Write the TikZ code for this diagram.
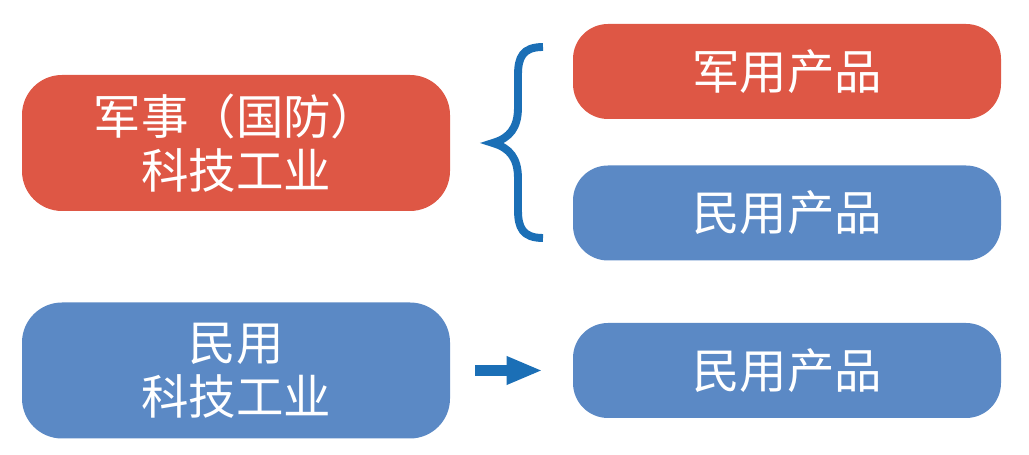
\documentclass[tikz,border=0pt]{standalone}
\usepackage{fontspec}
\setmainfont{Noto Sans CJK SC}
\usepackage{xcolor}
\usepackage{tikz}
\usetikzlibrary{arrows.meta,calc,positioning}
\definecolor{milred}{HTML}{DE5745}
\definecolor{civblue}{HTML}{5B89C5}
\definecolor{linkblue}{HTML}{1B6FB6}
\tikzset{
  sector/.style={rounded corners=0.8cm,minimum width=8.56cm,minimum height=2.72cm,
    align=center,text=white,font=\fontsize{27}{31}\selectfont},
  product/.style={rounded corners=0.7cm,minimum width=8.56cm,minimum height=1.9cm,
    align=center,text=white,font=\fontsize{27}{31}\selectfont}
}

\begin{document}
\begin{tikzpicture}[>=Latex]
    \useasboundingbox (0,0) rectangle (20.58,9.1);
    \node[sector,fill=milred] (mil) at (4.72,6.24) {军事（国防）\\科技工业};
    \node[sector,fill=civblue] (civ) at (4.72,1.69) {民用\\科技工业};
    \node[product,fill=milred] (milprod) at (15.74,7.67) {军用产品};
    \node[product,fill=civblue] (dualprod) at (15.74,4.84) {民用产品};
    \node[product,fill=civblue] (civprod) at (15.74,1.69) {民用产品};
    % brace from the military sector to its two products
    \coordinate (tip) at ($(mil.east)+(0.85,0)$);
    \draw[linkblue,line width=4.5pt,line join=miter,miter limit=8]
      (10.86,8.16) .. controls (10.45,8.16) and (10.36,7.95) .. (10.36,7.6)
      -- (10.36,6.95) .. controls (10.36,6.55) and (10.2,6.34) .. (tip)
      .. controls (10.2,6.14) and (10.36,5.93) .. (10.36,5.53)
      -- (10.36,4.9) .. controls (10.36,4.55) and (10.45,4.34) .. (10.86,4.34);
    \draw[-{Triangle[length=0.72cm,width=0.52cm]},linkblue,line width=5.7pt,
      shorten <=0.5cm,shorten >=0.6cm] (civ.east) -- (civprod.west);
  \end{tikzpicture}
\end{document}
